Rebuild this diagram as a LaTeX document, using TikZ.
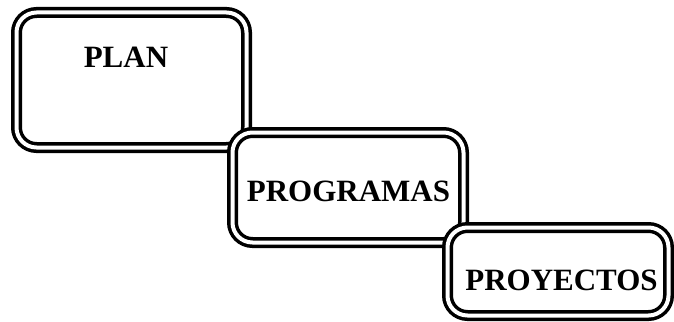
\documentclass[tikz,border=0pt]{standalone}
\usepackage{fontspec}
\setmainfont{Liberation Serif}
\usepackage{tikz}
\usetikzlibrary{positioning}

\begin{document}
\begin{tikzpicture}[x=1pt,y=-1pt,
    every node/.style={font=\fontsize{31}{31}\selectfont\bfseries,inner sep=0pt},
    stagebox/.style={draw,double,fill=white,line width=3.5pt,double distance=4pt,rounded corners=20pt}]
    \useasboundingbox (0,0) rectangle (674,321);
    % the three levels, each one drawn over the one before
    \node[stagebox,minimum width=230pt,minimum height=135pt] (plan) at (131.5,80) {};
    \node (plantxt) at (126,57) {PLAN};
    \node[stagebox,minimum width=231pt,minimum height=110pt] (prog) at (348,187.5) {};
    \node (progtxt) at (348.5,191) {PROGRAMAS};
    \node[stagebox,minimum width=221pt,minimum height=88pt] (proy) at (558,271.5) {};
    \node (proytxt) at (561.5,280) {PROYECTOS};
  \end{tikzpicture}
\end{document}
